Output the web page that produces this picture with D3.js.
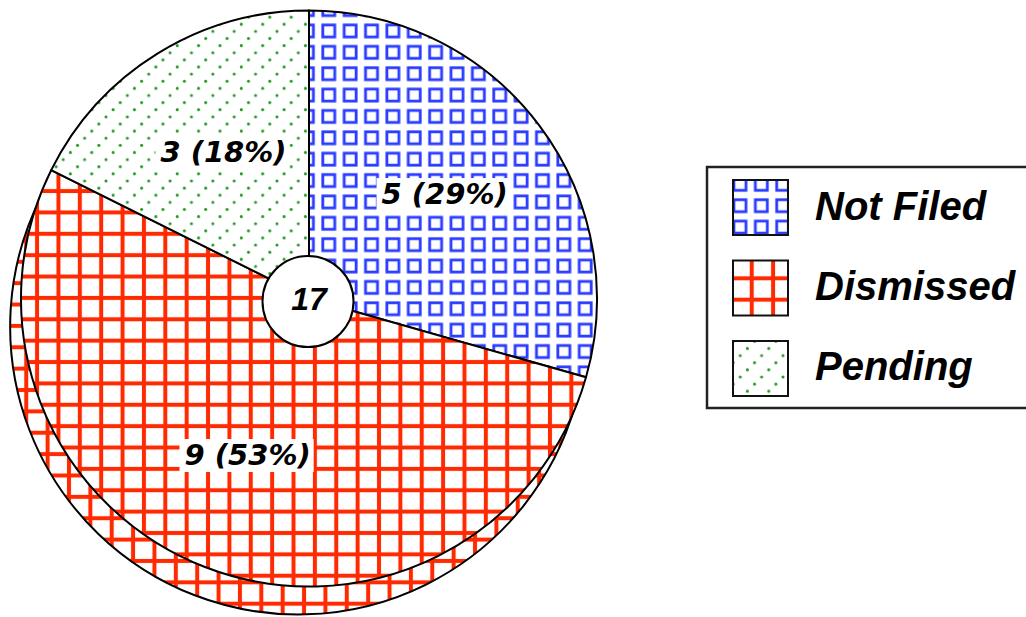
<!DOCTYPE html>
<html><head><meta charset="utf-8">
<script src="https://cdn.jsdelivr.net/npm/d3@7"></script>
<style>body{margin:0;background:#fff}svg{display:block}</style>
</head><body><svg id="c" width="1026" height="617"></svg>
<script>
const categories = ["Not Filed", "Dismissed", "Pending"];
const values = [5, 9, 3];
const patternIds = ["pBlue", "pRed", "pGreen"];
const legendPatternIds = ["lBlue", "lRed", "lGreen"];

const total = d3.sum(values);
const svg = d3.select("#c");
const defs = svg.append("defs");
const P = 21.37;

function bluePattern(id, ox, oy) {
  const p = defs.append("pattern").attr("id", id).attr("patternUnits", "userSpaceOnUse")
    .attr("width", P).attr("height", P).attr("x", ox).attr("y", oy);
  p.append("rect").attr("width", P).attr("height", P).attr("fill", "#fff");
  p.append("rect").attr("x", P / 2 - 6).attr("y", P / 2 - 6).attr("width", 12).attr("height", 12)
    .attr("fill", "none").attr("stroke", "#2a3cff").attr("stroke-width", 2.8);
}
function redPattern(id, ox, oy) {
  const p = defs.append("pattern").attr("id", id).attr("patternUnits", "userSpaceOnUse")
    .attr("width", P).attr("height", P).attr("x", ox).attr("y", oy);
  p.append("rect").attr("width", P).attr("height", P).attr("fill", "#fff");
  p.append("rect").attr("x", P / 2 - 2).attr("y", 0).attr("width", 4).attr("height", P).attr("fill", "#ff2a00");
  p.append("rect").attr("x", 0).attr("y", P / 2 - 2).attr("width", P).attr("height", 4).attr("fill", "#ff2a00");
}
function greenPattern(id, ox, oy) {
  const p = defs.append("pattern").attr("id", id).attr("patternUnits", "userSpaceOnUse")
    .attr("width", P).attr("height", P).attr("x", ox).attr("y", oy);
  p.append("rect").attr("width", P).attr("height", P).attr("fill", "#fff");
  [[P / 6, 5 * P / 6], [P / 2, P / 2], [5 * P / 6, P / 6]].forEach(d =>
    p.append("circle").attr("cx", d[0]).attr("cy", d[1]).attr("r", 1.5).attr("fill", "#1f9a1f"));
}
bluePattern("pBlue", 9.1, -0.4);
redPattern("pRed", -4.8, 10.1);
greenPattern("pGreen", 0, 0);
bluePattern("lBlue", 2.7, 2.7);
redPattern("lRed", -6.9, -10.2);
greenPattern("lGreen", 3, 3);

const cx = 309, cy = 298.5, R = 288;
const pie = d3.pie().sort(null).value(d => d)(values);
const arc = d3.arc().innerRadius(0).outerRadius(R);
const labelArc = d3.arc().innerRadius(170).outerRadius(170);

const g = svg.append("g").attr("transform", `translate(${cx},${cy})`);

// exploded copy of the largest slice (drawn behind)
const big = pie[1];
const mid = (big.startAngle + big.endAngle) / 2;
const off = 30;
g.append("path")
  .attr("transform", `translate(${off * Math.sin(mid)},${-off * Math.cos(mid)})`)
  .attr("d", arc(big))
  .attr("fill", "url(#pRed)").attr("stroke", "#000").attr("stroke-width", 2);

g.selectAll("path.slice").data(pie).enter().append("path").attr("class", "slice")
  .attr("d", arc)
  .attr("fill", (d, i) => `url(#${patternIds[i]})`)
  .attr("stroke", "#000").attr("stroke-width", 2).attr("stroke-linejoin", "round");

// center hole
g.append("circle").attr("cx", -1).attr("cy", 3).attr("r", 45.5)
  .attr("fill", "#fff").attr("stroke", "#000").attr("stroke-width", 2);
g.append("text").attr("x", 0).attr("y", 11).attr("text-anchor", "middle")
  .attr("font-family", "Liberation Sans").attr("font-weight", "bold").attr("font-style", "italic")
  .attr("font-size", 32).text(total);

// slice labels
pie.forEach((d, i) => {
  const c = labelArc.centroid(d);
  const pct = Math.round(d.data / total * 100);
  const lg = g.append("g");
  const t = lg.append("text").attr("x", c[0] + (i === 2 ? 4 : 0)).attr("y", c[1] + 8).attr("text-anchor", "middle")
    .attr("font-family", "DejaVu Sans").attr("font-weight", "bold").attr("font-style", "italic")
    .attr("font-size", 29).text(`${d.data} (${pct}%)`);
  const b = t.node().getBBox();
  lg.insert("rect", "text").attr("x", b.x - 5).attr("y", b.y + 1).attr("width", b.width + 8).attr("height", b.height - 1)
    .attr("fill", "#fff");
});

// legend
const lgd = svg.append("g");
lgd.append("rect").attr("x", 707).attr("y", 167).attr("width", 340).attr("height", 241)
  .attr("fill", "#fff").attr("stroke", "#222").attr("stroke-width", 2.5);
categories.forEach((c, i) => {
  const y = 180 + i * 80.5;
  lgd.append("rect").attr("x", 733).attr("y", y).attr("width", 55).attr("height", 55)
    .attr("fill", `url(#${legendPatternIds[i]})`).attr("stroke", "#111").attr("stroke-width", 2);
  lgd.append("text").attr("x", 815).attr("y", 220 + i * 80)
    .attr("font-family", "Liberation Sans").attr("font-weight", "bold").attr("font-style", "italic")
    .attr("font-size", 40).text(c);
});
</script></body></html>
